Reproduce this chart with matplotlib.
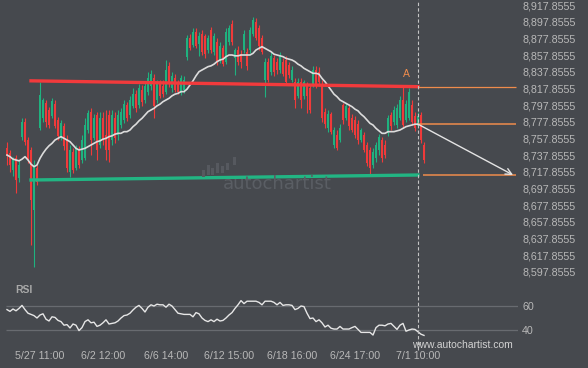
import matplotlib
matplotlib.use("Agg")
import matplotlib.pyplot as plt
import matplotlib.transforms as mtransforms
from matplotlib.lines import Line2D
from matplotlib.patches import Rectangle
import numpy as np

plt.rcParams['font.family'] = ['Liberation Sans', 'DejaVu Sans']

# hourly candles
opens = [8746, 8740, 8720, 8734, 8710, 8760, 8778, 8756, 8744, 8672,
         8722, 8770, 8782, 8800, 8792, 8785, 8799, 8780, 8760, 8773,
         8756, 8718, 8742, 8722, 8744, 8732, 8734, 8768, 8790, 8758,
         8786, 8750, 8782, 8762, 8786, 8756, 8782, 8762, 8774, 8780,
         8798, 8786, 8797, 8811, 8798, 8816, 8804, 8814, 8821, 8830,
         8804, 8823, 8821, 8814, 8845, 8818, 8830, 8823, 8814, 8816,
         8856, 8878, 8870, 8886, 8871, 8883, 8881, 8864, 8888, 8862,
         8874, 8852, 8866, 8850, 8874, 8895, 8854, 8864, 8859, 8864,
         8862, 8864, 8883, 8898, 8890, 8878, 8828, 8850, 8838, 8854,
         8850, 8840, 8850, 8852, 8846, 8828, 8826, 8809, 8826, 8809,
         8821, 8818, 8823, 8840, 8838, 8823, 8790, 8770, 8787, 8750,
         8762, 8756, 8798, 8782, 8794, 8782, 8780, 8775, 8756, 8762,
         8750, 8744, 8726, 8734, 8744, 8756, 8750, 8764, 8786, 8778,
         8774, 8782, 8804, 8780, 8782, 8798, 8785, 8773, 8786, 8750]
highs = [8754, 8744, 8736, 8738, 8732, 8782, 8782, 8760, 8748, 8732,
         8726, 8826, 8806, 8804, 8796, 8806, 8804, 8784, 8780, 8776,
         8762, 8750, 8746, 8750, 8749, 8762, 8782, 8792, 8794, 8787,
         8790, 8790, 8790, 8792, 8792, 8792, 8790, 8792, 8794, 8804,
         8802, 8809, 8818, 8816, 8823, 8822, 8826, 8838, 8840, 8835,
         8828, 8828, 8828, 8852, 8850, 8838, 8835, 8828, 8834, 8833,
         8882, 8883, 8890, 8890, 8886, 8888, 8883, 8882, 8892, 8884,
         8878, 8874, 8870, 8890, 8894, 8900, 8866, 8869, 8864, 8888,
         8866, 8892, 8904, 8902, 8894, 8882, 8854, 8854, 8862, 8858,
         8854, 8862, 8854, 8857, 8850, 8845, 8830, 8830, 8830, 8828,
         8826, 8822, 8845, 8845, 8844, 8828, 8794, 8792, 8790, 8772,
         8768, 8775, 8800, 8800, 8799, 8787, 8785, 8780, 8770, 8766,
         8754, 8748, 8746, 8754, 8763, 8760, 8756, 8786, 8790, 8797,
         8799, 8809, 8820, 8804, 8818, 8804, 8790, 8790, 8790, 8754]
lows = [8726, 8718, 8713, 8692, 8706, 8756, 8750, 8728, 8630, 8604,
        8702, 8768, 8778, 8772, 8770, 8782, 8770, 8756, 8756, 8744,
        8718, 8712, 8716, 8720, 8722, 8728, 8732, 8764, 8738, 8756,
        8732, 8746, 8750, 8732, 8730, 8750, 8752, 8756, 8770, 8776,
        8779, 8782, 8794, 8790, 8794, 8797, 8800, 8810, 8816, 8782,
        8800, 8806, 8808, 8811, 8820, 8814, 8814, 8811, 8810, 8812,
        8852, 8864, 8868, 8866, 8857, 8858, 8854, 8860, 8860, 8858,
        8846, 8848, 8845, 8847, 8870, 8870, 8834, 8846, 8842, 8860,
        8840, 8860, 8881, 8876, 8864, 8859, 8808, 8826, 8834, 8833,
        8835, 8836, 8833, 8823, 8830, 8826, 8794, 8806, 8794, 8805,
        8788, 8788, 8820, 8818, 8821, 8778, 8770, 8766, 8763, 8746,
        8744, 8754, 8775, 8780, 8768, 8766, 8758, 8751, 8754, 8742,
        8725, 8714, 8722, 8730, 8738, 8730, 8734, 8761, 8768, 8774,
        8770, 8780, 8770, 8778, 8780, 8774, 8767, 8770, 8752, 8728]
closes = [8737, 8726, 8732, 8708, 8726, 8778, 8754, 8732, 8684, 8726,
          8706, 8810, 8804, 8778, 8774, 8803, 8773, 8761, 8776, 8749,
          8722, 8744, 8720, 8746, 8726, 8756, 8774, 8788, 8756, 8782,
          8744, 8782, 8756, 8744, 8744, 8786, 8758, 8786, 8790, 8799,
          8782, 8804, 8811, 8794, 8818, 8802, 8821, 8830, 8835, 8797,
          8823, 8809, 8811, 8840, 8823, 8833, 8816, 8814, 8830, 8828,
          8878, 8866, 8886, 8869, 8881, 8862, 8859, 8878, 8864, 8881,
          8850, 8869, 8847, 8886, 8890, 8874, 8864, 8850, 8850, 8883,
          8845, 8888, 8900, 8878, 8869, 8862, 8850, 8828, 8857, 8838,
          8840, 8858, 8835, 8826, 8834, 8840, 8804, 8826, 8804, 8826,
          8809, 8792, 8840, 8821, 8826, 8782, 8775, 8787, 8766, 8768,
          8746, 8770, 8780, 8797, 8773, 8768, 8762, 8756, 8768, 8744,
          8728, 8722, 8742, 8750, 8760, 8734, 8738, 8782, 8773, 8792,
          8794, 8804, 8774, 8799, 8814, 8778, 8770, 8785, 8756, 8732]

# white moving average
ma_values = [8738, 8736, 8733, 8732, 8731, 8733, 8736, 8732, 8727, 8724,
             8726, 8734, 8740, 8745, 8749, 8752, 8756, 8758, 8760, 8758,
             8756, 8754, 8750, 8746, 8744, 8745, 8746, 8748, 8750, 8752,
             8754, 8755, 8757, 8758, 8760, 8761, 8763, 8764, 8764, 8766,
             8766, 8768, 8772, 8775, 8779, 8782, 8786, 8790, 8792, 8794,
             8797, 8799, 8802, 8804, 8806, 8809, 8811, 8812, 8814, 8814,
             8817, 8822, 8827, 8833, 8838, 8840, 8842, 8844, 8845, 8847,
             8850, 8852, 8853, 8856, 8858, 8858, 8857, 8857, 8858, 8858,
             8858, 8858, 8860, 8864, 8866, 8868, 8866, 8864, 8862, 8859,
             8858, 8857, 8856, 8854, 8853, 8852, 8850, 8847, 8845, 8842,
             8840, 8838, 8836, 8836, 8835, 8830, 8826, 8821, 8816, 8811,
             8808, 8804, 8802, 8800, 8798, 8796, 8793, 8791, 8787, 8784,
             8780, 8776, 8774, 8770, 8767, 8764, 8764, 8766, 8766, 8766,
             8767, 8768, 8770, 8772, 8773, 8774, 8775, 8775]

rsi_values = [57, 55.5, 57.5, 56, 58, 60.5, 57, 54, 53, 52,
              50, 52.5, 53.5, 49, 47.5, 51, 50.5, 48, 47, 44,
              44.5, 41.7, 45, 44, 39.5, 42, 47, 48.5, 46, 46.5,
              43, 44, 46, 48.5, 45, 45.5, 46, 47.5, 50, 52,
              52.5, 54, 56.7, 59, 60.5, 58, 55, 59, 61, 60,
              61.5, 61, 61, 59, 61.5, 60, 57, 54, 53.5, 53,
              53, 53, 51, 54.5, 53.5, 50, 48, 47, 48.5, 47,
              49, 47.5, 48, 50, 52.5, 54.5, 58, 61, 64.5, 62,
              64, 64, 64, 64, 63, 61, 64, 64, 64, 63,
              61, 63, 60.5, 61, 61, 60.5, 57, 58, 60, 59.5,
              54, 49.5, 50, 47, 48.5, 46, 42.5, 44, 41.5, 40.8,
              40.8, 43, 40.8, 40.8, 40.8, 42, 43, 40.5, 38, 38,
              38, 38, 35.8, 42, 44, 44, 43.5, 45, 45.5, 43,
              40.5, 44, 45.5, 39, 40, 40.8, 40.5, 38.5, 36.5, 35.5]

time_ticks = [11, 32, 53, 74, 95, 116, 137]
time_labels = ['5/27 11:00', '6/2 12:00', '6/6 14:00', '6/12 15:00',
               '6/18 16:00', '6/24 17:00', '7/1 10:00']
price_ticks = [8597.8555 + 20 * k for k in range(17)]

# pattern: resistance / support (index, price) pairs
resistance_x = [8, 137]
resistance_y = [8827, 8820]
support_x = [8, 137]
support_y = [8708, 8714]
pattern_end = 137
point_a = (133, 8829)
level_a = 8820
level_now = 8775
level_target = 8714
forecast_x = [137, 168.7]
forecast_y = [8775, 8714]

BG = '#46494e'
UP = '#1fb27f'
DOWN = '#f03a3a'
TXT = '#b8b8b8'
ORANGE = '#ef8c4c'

W, H = 588, 368
fig = plt.figure(figsize=(W / 100, H / 100), dpi=100, facecolor=BG)
ax = fig.add_axes([0, 1 - 280 / H, 518 / W, 280 / H])
ax_rsi = fig.add_axes([0, 23 / H, 518 / W, 65 / H])

for a in (ax, ax_rsi):
    a.set_facecolor(BG)
    for s in a.spines.values():
        s.set_visible(False)
    a.set_xlim(-7 / 3, 511 / 3)
    a.yaxis.tick_right()
    a.tick_params(axis='y', length=0, pad=3, labelsize=7.7, colors=TXT)
    a.tick_params(axis='x', length=0)

# candles
idx = np.arange(len(closes))
o = np.array(opens, float)
c = np.array(closes, float)
cols = [UP if cc > oo else DOWN for oo, cc in zip(o, c)]
ax.vlines(idx, lows, highs, colors=cols, lw=0.8, zorder=2)
ax.bar(idx, np.maximum(np.abs(c - o), 1.0), bottom=np.minimum(o, c),
       width=0.7, color=cols, lw=0, zorder=3)

ax.plot(np.arange(len(ma_values)), ma_values, color='#dcdcdc', lw=1.2, zorder=4)

ax.plot(resistance_x, resistance_y, color='#f23a3c', lw=2.4, zorder=5)
ax.plot(support_x, support_y, color='#22b583', lw=2.4, zorder=5)
ax.hlines(level_a, pattern_end, 169.67, color=ORANGE, lw=0.9, zorder=5)
ax.hlines(level_now, pattern_end, 169.67, color=ORANGE, lw=1.1, zorder=5)
ax.hlines(level_target, pattern_end + 1.7, 169.67, color=ORANGE, lw=1.1, zorder=5)
ax.text(point_a[0], point_a[1], 'A', color=ORANGE, fontsize=7.5,
        ha='center', va='bottom', zorder=6)
ax.annotate('', xy=(forecast_x[1], forecast_y[1]), xytext=(forecast_x[0], forecast_y[0]),
            arrowprops=dict(arrowstyle='->', color='#e4e4e4', lw=1.0,
                            mutation_scale=11, shrinkA=0, shrinkB=0), zorder=6)

ax.set_ylim(8588, 8924)
ax.set_yticks(price_ticks)
ax.set_yticklabels(['{:,.4f}'.format(v) for v in price_ticks])
ax.set_xticks([])

# RSI panel
ax_rsi.hlines([60, 40], -0.3, 171, color='#686b70', lw=0.9, zorder=1)
ax_rsi.plot(np.arange(len(rsi_values)), rsi_values, color='#e6e6e6', lw=1.0, zorder=3)
ax_rsi.set_ylim(27.5, 81.67)
ax_rsi.set_yticks([40, 60])
ax_rsi.set_yticklabels(['40', '60'])
ax_rsi.set_xticks(time_ticks)
ax_rsi.set_xticklabels(time_labels)
ax_rsi.tick_params(axis='x', pad=4, labelsize=7.7, colors=TXT)

# vertical dashed line at the pattern end
trans = mtransforms.blended_transform_factory(ax.transData, fig.transFigure)
fig.add_artist(Line2D([pattern_end, pattern_end], [18 / H, 1], transform=trans,
                      ls=(0, (3, 2)), color='#c4c4c4', lw=0.8, zorder=1))

# watermark
logo_bars = [(202, 170, 177), (207, 165, 175), (211, 168, 175), (216, 163, 173),
             (221, 166, 173), (226, 163, 170), (233, 157, 165)]
for bx, top, bot in logo_bars:
    fig.add_artist(Rectangle((bx / W, 1 - bot / H), 3 / W, (bot - top) / H,
                             transform=fig.transFigure, color='#56595f', lw=0, zorder=1))
fig.text(277 / W, 1 - 184 / H, 'autochartist', color='#5a5e64', fontsize=13,
         ha='center', va='center', family='DejaVu Sans', zorder=1)

fig.text(15 / W, 1 - 290 / H, 'RSI', color='#a9a9a9', fontsize=7.5,
         fontweight='bold', va='center')
fig.text(462 / W, 1 - 345 / H, 'www.autochartist.com', color='#d2d2d2',
         fontsize=7.5, ha='center', va='center')

fig.savefig('out.png', dpi=100, facecolor=BG)
